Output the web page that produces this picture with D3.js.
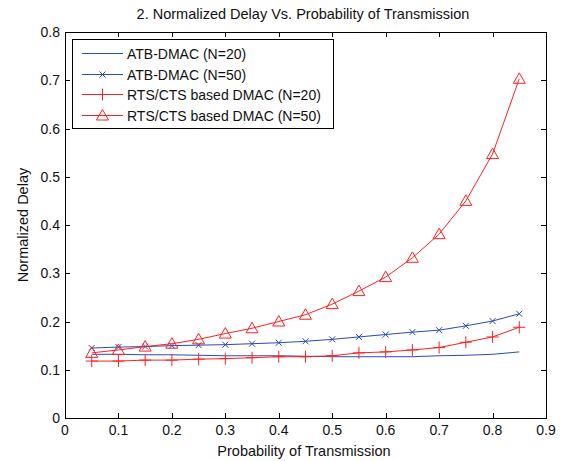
<!DOCTYPE html>
<html lang="en">
<head>
<meta charset="utf-8">
<style>
  body { margin: 0; background: white; }
  text { font-family: "Liberation Sans", Arial, sans-serif; fill: #111; }
</style>
</head>
<body>
<div id="chart"></div>
<script src="https://d3js.org/d3.v7.min.js"></script>
<script>
var probs = [0.05, 0.1, 0.15, 0.2, 0.25, 0.3, 0.35, 0.4, 0.45, 0.5, 0.55, 0.6, 0.65, 0.7, 0.75, 0.8, 0.85];
var atb20 = [0.132, 0.132, 0.131, 0.131, 0.130, 0.129, 0.129, 0.129, 0.128, 0.127, 0.127, 0.127, 0.127, 0.129, 0.130, 0.132, 0.137];
var atb50 = [0.145, 0.147, 0.148, 0.150, 0.151, 0.152, 0.154, 0.156, 0.159, 0.163, 0.168, 0.173, 0.178, 0.182, 0.191, 0.201, 0.216];
var rts20 = [0.118, 0.118, 0.120, 0.120, 0.122, 0.123, 0.125, 0.127, 0.127, 0.129, 0.135, 0.137, 0.141, 0.146, 0.157, 0.168, 0.188];
var rts50 = [0.135, 0.141, 0.148, 0.154, 0.163, 0.175, 0.186, 0.200, 0.214, 0.236, 0.263, 0.292, 0.332, 0.381, 0.450, 0.547, 0.703];
var xTicks = [0, 0.1, 0.2, 0.3, 0.4, 0.5, 0.6, 0.7, 0.8, 0.9];
var yTicks = [0, 0.1, 0.2, 0.3, 0.4, 0.5, 0.6, 0.7, 0.8];

var blue = "#2b4ab8", red = "#ff2020";
var series = [
  {name: "ATB-DMAC (N=20)", values: atb20, color: blue, marker: "none"},
  {name: "ATB-DMAC (N=50)", values: atb50, color: blue, marker: "x"},
  {name: "RTS/CTS based DMAC (N=20)", values: rts20, color: red, marker: "plus"},
  {name: "RTS/CTS based DMAC (N=50)", values: rts50, color: red, marker: "tri"}
];

var W = 563, H = 461;
var pl = 65, pr = 546, pt = 32, pb = 418;

var svg = d3.select("#chart").append("svg")
  .attr("width", W).attr("height", H);

var x = d3.scaleLinear().domain([0, 0.9]).range([pl, pr]);
var y = d3.scaleLinear().domain([0, 0.8]).range([pb, pt]);

// axes box + inward ticks on all four sides
var tl = 5;
var ax = svg.append("g").attr("stroke", "#000").attr("stroke-width", 1);
xTicks.forEach(function(t) {
  var px = Math.round(x(t)) + 0.5;
  ax.append("line").attr("x1", px).attr("x2", px).attr("y1", pb).attr("y2", pb - tl);
  ax.append("line").attr("x1", px).attr("x2", px).attr("y1", pt).attr("y2", pt + tl);
});
yTicks.forEach(function(t) {
  var py = Math.round(y(t)) + 0.5;
  ax.append("line").attr("x1", pl).attr("x2", pl + tl).attr("y1", py).attr("y2", py);
  ax.append("line").attr("x1", pr).attr("x2", pr - tl).attr("y1", py).attr("y2", py);
});
svg.append("rect")
  .attr("x", pl + 0.5).attr("y", pt + 0.5)
  .attr("width", pr - pl).attr("height", pb - pt)
  .attr("fill", "none").attr("stroke", "#000").attr("stroke-width", 1);

svg.append("g").selectAll("text").data(xTicks).enter().append("text")
  .attr("x", function(d) { return x(d); })
  .attr("y", 435)
  .attr("text-anchor", "middle")
  .attr("font-size", 14)
  .text(function(d) { return d3.format("")(d); });

svg.append("g").selectAll("text").data(yTicks).enter().append("text")
  .attr("x", pl - 5)
  .attr("y", function(d) { return y(d) + 5; })
  .attr("text-anchor", "end")
  .attr("font-size", 14)
  .text(function(d) { return d3.format("")(d); });

svg.append("text").attr("x", 304).attr("y", 456)
  .attr("text-anchor", "middle").attr("font-size", 14.5)
  .text("Probability of Transmission");

svg.append("text").attr("transform", "translate(28," + ((pt + pb) / 2) + ") rotate(-90)")
  .attr("text-anchor", "middle").attr("font-size", 14.5)
  .text("Normalized Delay");

svg.append("text").attr("x", 303).attr("y", 19)
  .attr("text-anchor", "middle").attr("font-size", 14.5)
  .text("2. Normalized Delay Vs. Probability of Transmission");

function drawMarker(g, type, cx, cy, color) {
  if (type === "x") {
    var s = 3;
    g.append("path").attr("d", "M" + (cx - s) + "," + (cy - s) + "L" + (cx + s) + "," + (cy + s) +
      "M" + (cx - s) + "," + (cy + s) + "L" + (cx + s) + "," + (cy - s))
      .attr("stroke", color).attr("fill", "none");
  } else if (type === "plus") {
    var p = 6;
    g.append("path").attr("d", "M" + (cx - p) + "," + cy + "L" + (cx + p) + "," + cy +
      "M" + cx + "," + (cy - p) + "L" + cx + "," + (cy + p))
      .attr("stroke", color).attr("fill", "none");
  } else if (type === "tri") {
    var r = 6;
    g.append("path").attr("d", "M" + cx + "," + (cy - r) + "L" + (cx + r) + "," + (cy + r * 0.75) +
      "L" + (cx - r) + "," + (cy + r * 0.75) + "Z")
      .attr("stroke", color).attr("fill", "none");
  }
}

var line = d3.line().x(function(d) { return x(d[0]); }).y(function(d) { return y(d[1]); });

var plot = svg.append("g");
series.forEach(function(s) {
  var pts = probs.map(function(p, i) { return [p, s.values[i]]; });
  plot.append("path").datum(pts).attr("d", line)
    .attr("fill", "none").attr("stroke", s.color).attr("stroke-width", 1);
  var mg = plot.append("g").attr("stroke-width", 1);
  pts.forEach(function(d) { drawMarker(mg, s.marker, x(d[0]), y(d[1]), s.color); });
});

// legend
var lg = svg.append("g");
lg.append("rect").attr("x", 72.5).attr("y", 39.5).attr("width", 261).attr("height", 89)
  .attr("fill", "white").attr("stroke", "#000");
series.forEach(function(s, i) {
  var ly = Math.round(53 + i * 20.5) + 0.5;
  lg.append("line").attr("x1", 82).attr("x2", 123).attr("y1", ly).attr("y2", ly)
    .attr("stroke", s.color);
  drawMarker(lg, s.marker, 102.5, ly, s.color);
  lg.append("text").attr("x", 127).attr("y", ly + 5).attr("font-size", 14).text(s.name);
});
</script>
</body>
</html>
